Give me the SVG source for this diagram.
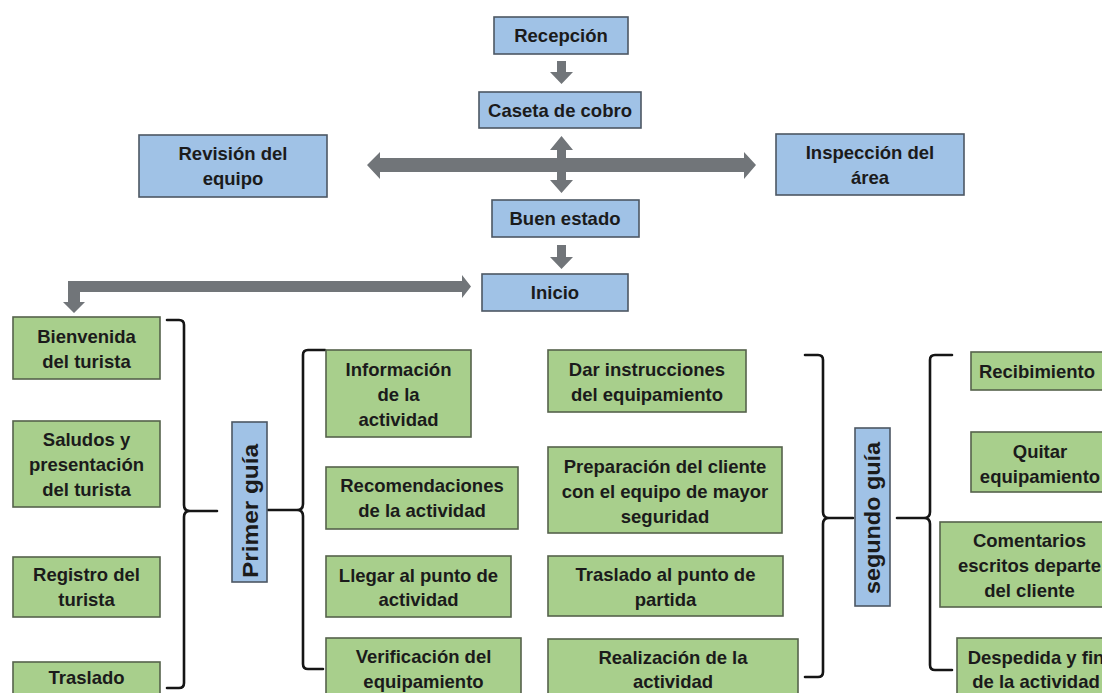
<svg xmlns="http://www.w3.org/2000/svg" width="1102" height="693" viewBox="0 0 1102 693">
  <defs>
    <style>
      .blue { fill: #a0c2e6; stroke: #4d5763; stroke-width: 1.6; }
      .green { fill: #a8cf8c; stroke: #55624b; stroke-width: 1.6; }
      .t { font-family: "Liberation Sans", Arial, sans-serif; font-weight: bold; font-size: 18.5px; fill: #1b1b1b; text-anchor: middle; }
      .vt { font-family: "Liberation Sans", Arial, sans-serif; font-weight: bold; font-size: 22px; fill: #1b1b1b; text-anchor: middle; }
      .arrow { fill: #717579; }
      .brace { fill: none; stroke: #151515; stroke-width: 2.6; stroke-linejoin: round; stroke-linecap: round; }
    </style>
  </defs>
  <rect width="1102" height="693" fill="#ffffff"/>

  <!-- connectors: block arrows and braces -->
  <g id="connectors">
    <polygon class="arrow" points="557,61 566,61 566,72 573,72 561.5,84 550,72 557,72"/>
    <polygon class="arrow" points="367,165 380,152 380,158 744,158 744,152 756,165 744,179 744,172 380,172 380,179"/>
    <polygon class="arrow" points="561.5,136 573,150 566,150 566,180 573,180 561.5,193 550,180 557,180 557,150 550,150"/>
    <polygon class="arrow" points="557,245 566,245 566,257 573,257 561.5,269 550,257 557,257"/>
    <polygon class="arrow" points="462,281 462,275 471,286.5 462,298 462,292 80,292 80,302 85,302 74,313 63,302 68,302 68,281"/>
    <path class="brace" d="M167,320 H179 Q184,320 184,325 V505 Q184,511 190,511 H217 M190,511 Q184,511 184,517 V683 Q184,688 179,688 H167"/>
    <path class="brace" d="M325,350 H308 Q303,350 303,355 V504 Q303,510 297,510 H268 M297,510 Q303,510 303,516 V664 Q303,669 308,669 H323"/>
    <path class="brace" d="M805,355 H818 Q823,355 823,360 V512 Q823,518 829,518 H853 M829,518 Q823,518 823,524 V672 Q823,677 818,677 H805"/>
    <path class="brace" d="M952,355 H935 Q930,355 930,360 V512 Q930,518 924,518 H897 M924,518 Q930,518 930,524 V665 Q930,670 935,670 H952"/>
  </g>

  <!-- top flow -->
  <g id="recepcion">
    <rect class="blue" x="494" y="17" width="134" height="37"/>
    <text class="t" x="561" y="42">Recepción</text>
  </g>
  <g id="caseta">
    <rect class="blue" x="479" y="92" width="162" height="36"/>
    <text class="t" x="560" y="117">Caseta de cobro</text>
  </g>
  <g id="revision">
    <rect class="blue" x="139" y="135" width="188" height="62"/>
    <text class="t" x="233" y="160">Revisión del</text>
    <text class="t" x="233" y="185">equipo</text>
  </g>
  <g id="inspeccion">
    <rect class="blue" x="776" y="134" width="188" height="61"/>
    <text class="t" x="870" y="159">Inspección del</text>
    <text class="t" x="870" y="184">área</text>
  </g>
  <g id="buen-estado">
    <rect class="blue" x="492" y="200" width="147" height="37"/>
    <text class="t" x="565" y="225">Buen estado</text>
  </g>
  <g id="inicio">
    <rect class="blue" x="482" y="274" width="146" height="37"/>
    <text class="t" x="555" y="299">Inicio</text>
  </g>

  <!-- left column -->
  <g id="bienvenida">
    <rect class="green" x="13" y="317" width="147" height="62"/>
    <text class="t" x="86.5" y="343">Bienvenida</text>
    <text class="t" x="86.5" y="368">del turista</text>
  </g>
  <g id="saludos">
    <rect class="green" x="13" y="421" width="147" height="86"/>
    <text class="t" x="86.5" y="446">Saludos y</text>
    <text class="t" x="86.5" y="471">presentación</text>
    <text class="t" x="86.5" y="496">del turista</text>
  </g>
  <g id="registro">
    <rect class="green" x="13" y="557" width="147" height="60"/>
    <text class="t" x="86.5" y="581">Registro del</text>
    <text class="t" x="86.5" y="606">turista</text>
  </g>
  <g id="traslado">
    <rect class="green" x="13" y="662" width="147" height="50"/>
    <text class="t" x="86.5" y="684">Traslado</text>
  </g>

  <!-- first guide -->
  <g id="primer-guia">
    <rect class="blue" x="232" y="422" width="35" height="160"/>
    <text class="vt" transform="translate(257.5,511) rotate(-90)" x="0" y="0" textLength="134" lengthAdjust="spacingAndGlyphs">Primer guía</text>
  </g>
  <g id="informacion">
    <rect class="green" x="326" y="350" width="145" height="87"/>
    <text class="t" x="398.5" y="376">Información</text>
    <text class="t" x="398.5" y="401">de la</text>
    <text class="t" x="398.5" y="426">actividad</text>
  </g>
  <g id="recomendaciones">
    <rect class="green" x="326" y="467" width="192" height="62"/>
    <text class="t" x="422" y="492">Recomendaciones</text>
    <text class="t" x="422" y="517">de la actividad</text>
  </g>
  <g id="llegar">
    <rect class="green" x="326" y="556" width="185" height="61"/>
    <text class="t" x="418.5" y="582">Llegar al punto de</text>
    <text class="t" x="418.5" y="606">actividad</text>
  </g>
  <g id="verificacion">
    <rect class="green" x="326" y="638" width="195" height="70"/>
    <text class="t" x="423.5" y="663">Verificación del</text>
    <text class="t" x="423.5" y="688">equipamiento</text>
  </g>

  <!-- middle column -->
  <g id="instrucciones">
    <rect class="green" x="548" y="350" width="198" height="62"/>
    <text class="t" x="647" y="376">Dar instrucciones</text>
    <text class="t" x="647" y="401">del equipamiento</text>
  </g>
  <g id="preparacion">
    <rect class="green" x="548" y="447" width="234" height="86"/>
    <text class="t" x="665" y="473">Preparación del cliente</text>
    <text class="t" x="665" y="498">con el equipo de mayor</text>
    <text class="t" x="665" y="523">seguridad</text>
  </g>
  <g id="traslado-partida">
    <rect class="green" x="548" y="556" width="235" height="60"/>
    <text class="t" x="665.5" y="581">Traslado al punto de</text>
    <text class="t" x="665.5" y="606">partida</text>
  </g>
  <g id="realizacion">
    <rect class="green" x="548" y="639" width="250" height="70"/>
    <text class="t" x="673" y="664">Realización de la</text>
    <text class="t" x="673" y="688">actividad</text>
  </g>

  <!-- second guide -->
  <g id="segundo-guia">
    <rect class="blue" x="855" y="428" width="35" height="178"/>
    <text class="vt" transform="translate(880,518) rotate(-90)" x="0" y="0" textLength="152" lengthAdjust="spacingAndGlyphs">segundo guía</text>
  </g>
  <g id="recibimiento">
    <rect class="green" x="971" y="352" width="140" height="38"/>
    <text class="t" x="1037" y="378">Recibimiento</text>
  </g>
  <g id="quitar">
    <rect class="green" x="971" y="432" width="150" height="60"/>
    <text class="t" x="1040" y="458">Quitar</text>
    <text class="t" x="1040" y="483">equipamiento</text>
  </g>
  <g id="comentarios">
    <rect class="green" x="940" y="522" width="180" height="85"/>
    <text class="t" x="1029.5" y="547">Comentarios</text>
    <text class="t" x="1029.5" y="572">escritos departe</text>
    <text class="t" x="1029.5" y="597">del cliente</text>
  </g>
  <g id="despedida">
    <rect class="green" x="957" y="638" width="170" height="70"/>
    <text class="t" x="1036" y="664">Despedida y fin</text>
    <text class="t" x="1036" y="688">de la actividad</text>
  </g>
</svg>
